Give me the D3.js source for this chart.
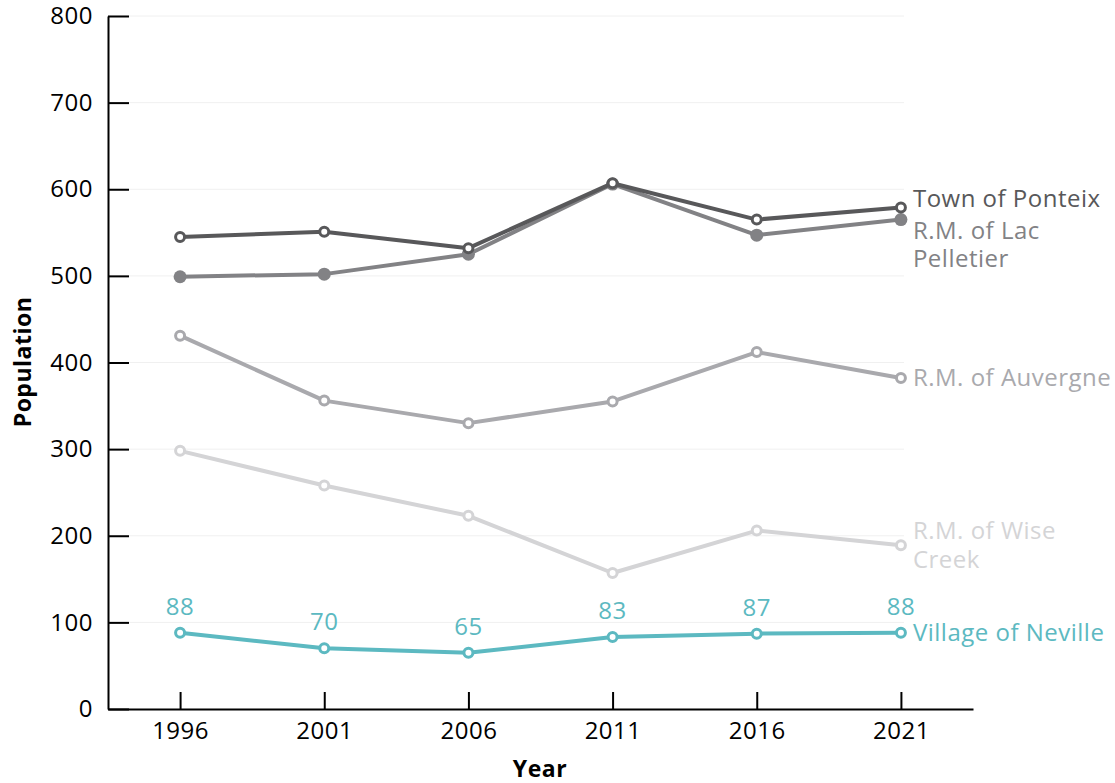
<!DOCTYPE html>
<html>
<head>
<meta charset="utf-8">
<script src="https://cdn.jsdelivr.net/npm/d3@7"></script>
<style>
  body { margin: 0; background: #fff; }
  svg { font-family: "Open Sans", "Noto Sans", sans-serif; letter-spacing: 0.5px; }
</style>
</head>
<body>
<div id="chart"></div>
<script>
// Data
const years = [1996, 2001, 2006, 2011, 2016, 2021];
const seriesNames = ["R.M. of Wise Creek", "R.M. of Auvergne", "R.M. of Lac Pelletier", "Town of Ponteix", "Village of Neville"];
const wiseCreek = [298, 258, 223, 157, 206, 189];
const auvergne = [431, 356, 330, 355, 412, 382];
const lacPelletier = [499, 502, 525, 606, 547, 565];
const ponteix = [545, 551, 532, 607, 565, 579];
const neville = [88, 70, 65, 83, 87, 88];
const yTicks = [0, 100, 200, 300, 400, 500, 600, 700, 800];

// Styles
const colors = ["#d4d4d6", "#a9a9ad", "#828285", "#58585a", "#5cb9c1"];
const filled = [false, false, true, false, false];
const fontSize = 24;

const values = [wiseCreek, auvergne, lacPelletier, ponteix, neville];
const series = seriesNames.map((name, i) => ({
  name: name,
  color: colors[i],
  filled: filled[i],
  values: years.map((y, j) => ({ year: y, value: values[i][j] }))
}));

const W = 1115, H = 783;
const svg = d3.select("#chart").append("svg")
  .attr("width", W)
  .attr("height", H);

const xScale = d3.scaleLinear().domain([1993.5, 2023.5]).range([108, 973]);
const yScale = d3.scaleLinear().domain([0, 800]).range([709, 16]);

// Gridlines
svg.append("g")
  .selectAll("line")
  .data(yTicks.filter(d => d > 0))
  .join("line")
    .attr("x1", 108)
    .attr("x2", 904)
    .attr("y1", d => yScale(d))
    .attr("y2", d => yScale(d))
    .attr("stroke", "#f0f0f0")
    .attr("stroke-width", 1);

// Y axis
const yAxis = svg.append("g")
  .attr("transform", "translate(108,0)")
  .call(d3.axisLeft(yScale).tickValues(yTicks).tickSizeInner(-21).tickSizeOuter(0).tickPadding(15));
yAxis.select(".domain").attr("stroke", "#000").attr("stroke-width", 2);
yAxis.selectAll(".tick line").attr("stroke", "#000").attr("stroke-width", 2);
yAxis.selectAll(".tick text")
  .attr("font-size", fontSize)
  .attr("fill", "#000")
  .attr("font-family", "'Open Sans', sans-serif");

// X axis
const xAxis = svg.append("g")
  .attr("transform", "translate(0,709)")
  .call(d3.axisBottom(xScale).tickValues(years).tickFormat(d3.format("d")).tickSizeInner(-17).tickSizeOuter(0).tickPadding(13));
xAxis.select(".domain").attr("stroke", "#000").attr("stroke-width", 2);
xAxis.selectAll(".tick line").attr("stroke", "#000").attr("stroke-width", 2);
xAxis.selectAll(".tick text")
  .attr("font-size", fontSize)
  .attr("fill", "#000")
  .attr("font-family", "'Open Sans', sans-serif");

// Axis titles
svg.append("text")
  .attr("x", 540)
  .attr("y", 777)
  .attr("text-anchor", "middle")
  .attr("font-size", 23)
  .attr("font-weight", "bold")
  .text("Year");

svg.append("text")
  .attr("transform", "rotate(-90)")
  .attr("x", -362)
  .attr("y", 31)
  .attr("text-anchor", "middle")
  .attr("font-size", 23)
  .attr("font-weight", "bold")
  .text("Population");

// Lines and points
const line = d3.line()
  .x(d => xScale(d.year))
  .y(d => yScale(d.value));

const groups = svg.selectAll(".series")
  .data(series)
  .join("g")
    .attr("class", "series");

groups.append("path")
  .attr("fill", "none")
  .attr("stroke", d => d.color)
  .attr("stroke-width", 4)
  .attr("stroke-linejoin", "round")
  .attr("d", d => line(d.values));

groups.each(function(s) {
  d3.select(this).selectAll("circle")
    .data(s.values)
    .join("circle")
      .attr("cx", d => xScale(d.year))
      .attr("cy", d => yScale(d.value))
      .attr("r", s.filled ? 6.5 : 4.5)
      .attr("fill", s.filled ? s.color : "#fff")
      .attr("stroke", s.color)
      .attr("stroke-width", s.filled ? 0 : 3);
});

// Value labels for Village of Neville
const nev = series[4];
svg.append("g")
  .selectAll("text")
  .data(nev.values)
  .join("text")
    .attr("x", d => xScale(d.year))
    .attr("y", d => yScale(d.value) - 18)
    .attr("text-anchor", "middle")
    .attr("font-size", fontSize)
    .attr("fill", nev.color)
    .text(d => d.value);

// End labels with wrapping and collision avoidance
const labelX = xScale(2021) + 12;
const maxWidth = W - labelX - 1;
const lineH = 28.5;

const labelG = svg.append("g");
const labels = series.map(s => {
  const last = s.values[s.values.length - 1];
  const t = labelG.append("text")
    .attr("x", labelX)
    .attr("font-size", fontSize)
    .attr("fill", s.color);
  // wrap words
  const words = s.name.split(" ");
  let lines = [];
  let current = [];
  const probe = t.append("tspan");
  words.forEach(w => {
    const attempt = current.concat([w]).join(" ");
    probe.text(attempt);
    if (probe.node().getComputedTextLength() > maxWidth && current.length) {
      lines.push(current.join(" "));
      current = [w];
    } else {
      current.push(w);
    }
  });
  lines.push(current.join(" "));
  probe.remove();
  return { text: t, lines: lines, center: yScale(last.value), height: lines.length * lineH };
});

// resolve overlaps between neighbouring labels
labels.sort((a, b) => a.center - b.center);
for (let iter = 0; iter < 20; iter++) {
  for (let i = 0; i < labels.length - 1; i++) {
    const a = labels[i], b = labels[i + 1];
    const overlap = (a.center + a.height / 2) - (b.center - b.height / 2) + 3;
    if (overlap > 0) {
      a.center -= overlap * 0.25;
      b.center += overlap * 0.75;
    }
  }
}

labels.forEach(l => {
  const top = l.center - l.height / 2;
  l.lines.forEach((txt, i) => {
    l.text.append("tspan")
      .attr("x", labelX)
      .attr("y", top + lineH * i + lineH / 2)
      .attr("dy", "0.35em")
      .text(txt);
  });
});
</script>
</body>
</html>
